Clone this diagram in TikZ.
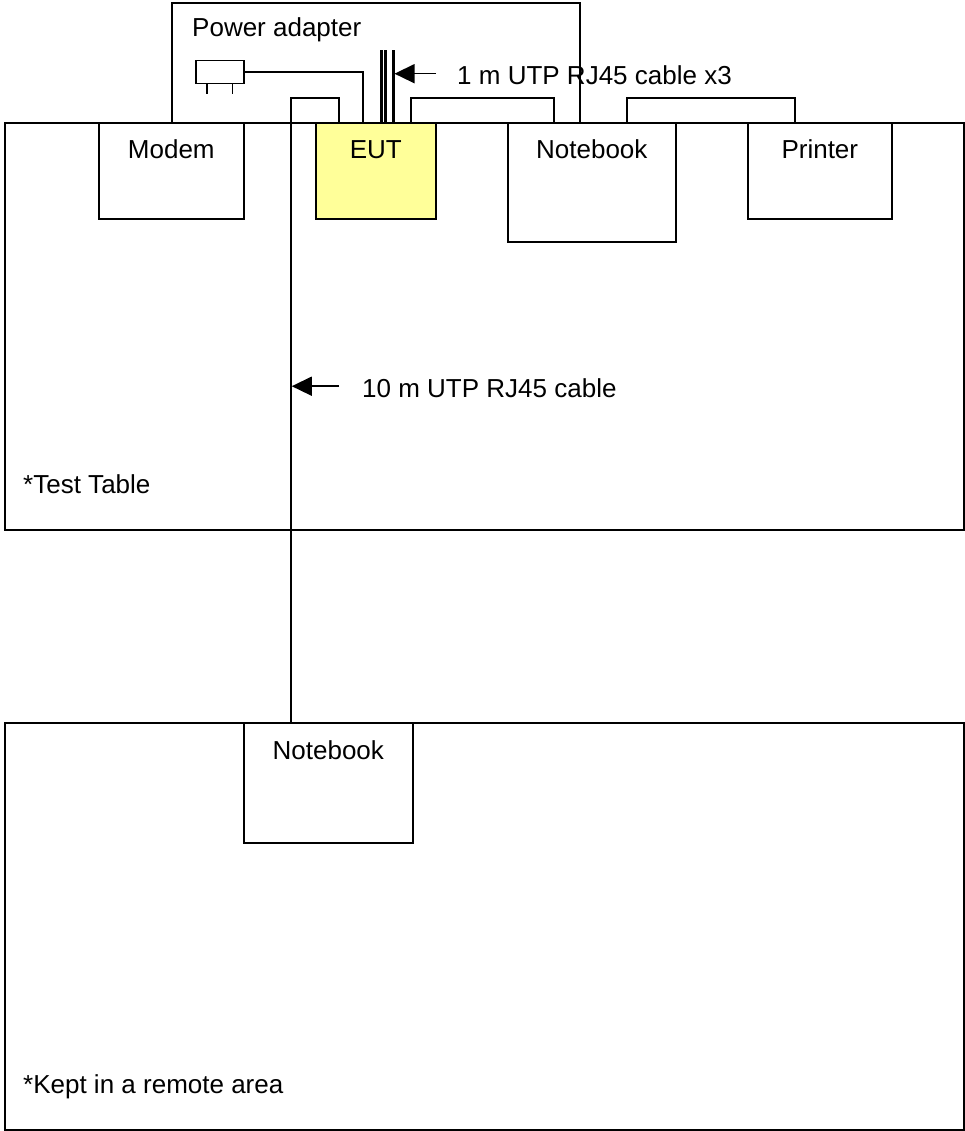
\documentclass[tikz,border=0pt]{standalone}
\usepackage{fontspec}
\setmainfont{Liberation Sans}
\usetikzlibrary{arrows.meta, positioning}
\definecolor{eutYellow}{HTML}{FFFF99}
\tikzset{
  box/.style       = {draw, rectangle, inner sep=0pt, anchor=north west,
                      line width=1.6pt, minimum width=#1},
  lbl/.style       = {inner sep=0pt, font=\fontsize{26}{30}\selectfont},
  cable/.style     = {line width=1.5pt},
  utp/.style       = {line width=3pt},
  pointer/.style   = {-{Triangle[length=20pt, width=19pt]}, line width=1.5pt},
}

\begin{document}
\begin{tikzpicture}[x=1pt, y=-1pt]
\useasboundingbox (0,0) rectangle (965,1131);

% ---- table and remote area ------------------------------------------------
\node[box=959pt, minimum height=407pt] (table) at (4,122) {};
\node[box=959pt, minimum height=407pt] (area)  at (4,722) {};
\node[lbl, anchor=base west] (tableLbl) at (23,493) {*Test Table};
\node[lbl, anchor=base west] (areaLbl)  at (23,1093) {*Kept in a remote area};

% ---- power adapter --------------------------------------------------------
\node[box=408pt, minimum height=120pt] (adapter) at (171,2) {};
\node[lbl, anchor=base west] (adapterLbl) at (192,37) {Power adapter};
\node[box=48pt, minimum height=23pt, line width=1.5pt] (plug) at (195,60) {};
\draw[cable] ([xshift=12pt]plug.south west) -- ++(0,10);
\draw[cable] ([xshift=-12pt]plug.south east) -- ++(0,10);

% ---- devices on the table -------------------------------------------------
\node[box=145pt, minimum height=96pt] (modem) at (98,122) {};
\node[box=120pt, minimum height=96pt, fill=eutYellow] (eut) at (315,122) {};
\node[box=168pt, minimum height=119pt] (nbLocal) at (507,122) {};
\node[box=144pt, minimum height=96pt] (printer) at (747,122) {};
\node[box=169pt, minimum height=120pt] (nbRemote) at (243,722) {};

\node[lbl, anchor=base] at ([yshift=-37pt]modem.north)    {Modem};
\node[lbl, anchor=base] at ([yshift=-37pt]eut.north)      {EUT};
\node[lbl, anchor=base] at ([yshift=-37pt]nbLocal.north)  {Notebook};
\node[lbl, anchor=base] at ([yshift=-37pt]printer.north)  {Printer};
\node[lbl, anchor=base] at ([yshift=-37pt]nbRemote.north) {Notebook};

% ---- cables ---------------------------------------------------------------
\coordinate (remoteUp) at ([xshift=48pt]nbRemote.north west);
\draw[cable] (remoteUp) |- (291,98) -| ([xshift=24pt]eut.north west);
\draw[cable] (plug.east) -| ([xshift=48pt]eut.north west);
\draw[cable] ([xshift=96pt]eut.north west) |- (554,98)
             -- ([xshift=47pt]nbLocal.north west);
\draw[cable] ([xshift=120pt]nbLocal.north west) |- (795,98)
             -- ([xshift=48pt]printer.north west);

\foreach \dx [count=\i] in {66,70,78}
  \draw[utp] ([xshift=\dx pt]eut.north west) -- ++(0,-72)
    coordinate (utpTop\i);

% ---- cable labels ---------------------------------------------------------
\node[lbl, anchor=base west] (utpLbl) at (457,85) {1 m UTP RJ45 cable x3};
\coordinate (utpTail) at ([xshift=-21pt, yshift=2pt]utpLbl.west);
\draw[pointer, shorten >=1.5pt] (utpTail) -- (utpTail -| utpTop3);

\node[lbl, anchor=base west] (lanLbl) at (362,397) {10 m UTP RJ45 cable};
\coordinate (lanTail) at ([xshift=-23pt, yshift=1.5pt]lanLbl.west);
\draw[pointer, shorten >=0.75pt] (lanTail) -- (lanTail -| remoteUp);

\end{tikzpicture}
\end{document}
